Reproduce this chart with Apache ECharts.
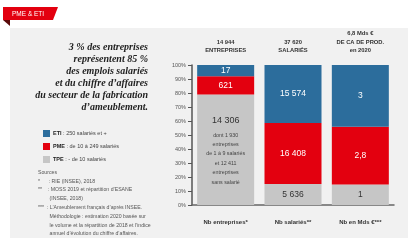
<!DOCTYPE html>
<html>
<head>
<meta charset="utf-8">
<script src="https://cdn.jsdelivr.net/npm/echarts@6/dist/echarts.min.js"></script>
<style>
  html, body { margin: 0; padding: 0; background: #fff; }
  #chart { width: 417px; height: 247px; }
</style>
</head>
<body>
<div id="chart"></div>
<script>
const categories = ['Nb entreprises*', 'Nb salariés**', 'Nb en Mds €***'];
const headers = ['14 944\nENTREPRISES', '37 620\nSALARIÉS', '6,8 Mds €\nDE CA DE PROD.\nen 2020'];
// hauteur de chaque segment (en % de la barre)
const tpeShare = [79, 15.0, 14.7];
const pmeShare = [13, 43.6, 41.2];
const etiShare = [8, 41.4, 44.1];
const tpeLabels = ['14 306', '5 636', '1'];
const pmeLabels = ['621', '16 408', '2,8'];
const etiLabels = ['17', '15 574', '3'];
const tpeNote = ['dont 1 930', 'entreprises', 'de 1 à 9 salariés', 'et 12 411', 'entreprises', 'sans salarié'];
const legendNames = ['ETI', 'PME', 'TPE'];
const legendDesc = ['250 salariés et +', 'de 10 à 249 salariés', '- de 10 salariés'];
const headline = ['3 % des entreprises', 'représentent 85 %', 'des emplois salariés',
  'et du chiffre d\u2019affaires', 'du secteur de la fabrication', 'd\u2019ameublement.'];
const sources = ['Sources', '*      : RIE (INSEE), 2018', '**    : MOSS 2019 et répartition d\u2019ESANE',
  '        (INSEE, 2018)', '***  : L\u2019Ameublement français d\u2019après INSEE.',
  '        Méthodologie : estimation 2020 basée sur',
  '        le volume et la répartition de 2018 et l\u2019indice',
  '        annuel d\u2019évolution du chiffre d\u2019affaires.'];

const BLUE = '#2c6d9c';
const RED = '#e3000f';
const GREY = '#c6c6c6';
const FONT = 'Liberation Sans';

const chart = echarts.init(document.getElementById('chart'));

const tpeData = tpeShare.map((v, i) => {
  if (i !== 0) return v;
  return {
    value: v,
    label: {
      position: 'insideTop',
      distance: 16,
      formatter: '{a|' + tpeLabels[0] + '}\n' + tpeNote.map(t => '{b|' + t + '}').join('\n'),
      rich: {
        a: { fontSize: 9, lineHeight: 20, color: '#333', fontFamily: FONT },
        b: { fontSize: 5.3, lineHeight: 9.4, color: '#444', fontFamily: FONT }
      }
    }
  };
});

chart.setOption({
  animation: false,
  textStyle: { fontFamily: FONT },
  grid: { left: 192, right: 23, top: 65, bottom: 42 },
  legend: {
    data: legendNames,
    orient: 'vertical',
    left: 38,
    top: 125,
    icon: 'rect',
    itemWidth: 7,
    itemHeight: 7,
    itemGap: 6,
    selectedMode: false,
    textStyle: {
      fontSize: 5.5,
      color: '#444',
      padding: [0, 0, 0, -2],
      rich: { b: { fontSize: 5.5, fontWeight: 'bold', color: '#222' } }
    },
    formatter: name => '{b|' + name + '} : ' + legendDesc[legendNames.indexOf(name)]
  },
  xAxis: [{
    type: 'category',
    data: categories,
    axisLine: { lineStyle: { color: '#666', width: 1.5 } },
    axisTick: { show: false },
    axisLabel: { fontSize: 6, fontWeight: 'bold', color: '#333', margin: 14 }
  }, {
    type: 'category',
    position: 'top',
    data: headers,
    axisLine: { show: false },
    axisTick: { show: false },
    axisLabel: { fontSize: 5.8, fontWeight: 'bold', color: '#333', lineHeight: 8.5, margin: 10 }
  }],
  yAxis: {
    type: 'value',
    min: 0,
    max: 100,
    interval: 10,
    axisLine: { show: true, lineStyle: { color: '#555', width: 1.5 } },
    axisTick: { show: true, length: 4, lineStyle: { color: '#555' } },
    splitLine: { show: false },
    axisLabel: { fontSize: 5.5, color: '#555', margin: 6, formatter: '{value}%' }
  },
  series: [{
    name: 'TPE',
    type: 'bar',
    stack: 'total',
    barWidth: 57,
    data: tpeData,
    itemStyle: { color: GREY },
    label: {
      show: true,
      position: 'inside',
      fontSize: 8.5,
      color: '#333',
      formatter: p => tpeLabels[p.dataIndex]
    }
  }, {
    name: 'PME',
    type: 'bar',
    stack: 'total',
    barWidth: 57,
    data: pmeShare,
    itemStyle: { color: RED },
    label: {
      show: true,
      position: 'inside',
      fontSize: 8.5,
      color: '#fff',
      formatter: p => pmeLabels[p.dataIndex]
    }
  }, {
    name: 'ETI',
    type: 'bar',
    stack: 'total',
    barWidth: 57,
    data: etiShare,
    itemStyle: { color: BLUE },
    label: {
      show: true,
      position: 'inside',
      fontSize: 8.5,
      color: '#fff',
      formatter: p => etiLabels[p.dataIndex]
    }
  }],
  graphic: [{
    type: 'rect',
    z: -10,
    shape: { x: 10, y: 28, width: 398, height: 210 },
    style: { fill: '#f1f1f1' }
  }, {
    type: 'polygon',
    z: 10,
    shape: { points: [[3, 20], [10, 20], [10, 26]] },
    style: { fill: '#5a0a0a' }
  }, {
    type: 'polygon',
    z: 10,
    shape: { points: [[3, 7], [58, 7], [53, 20], [3, 20]] },
    style: { fill: '#e3000f' }
  }, {
    type: 'text',
    z: 11,
    x: 12,
    y: 10.5,
    style: { text: 'PME & ETI', fill: '#fff', fontSize: 6.5, fontFamily: FONT }
  }, {
    type: 'text',
    x: 148,
    y: 41,
    style: {
      text: headline.join('\n'),
      align: 'right',
      fill: '#222',
      fontSize: 10,
      lineHeight: 12,
      fontStyle: 'italic',
      fontWeight: 'bold',
      fontFamily: 'Liberation Serif'
    }
  }, {
    type: 'text',
    x: 38,
    y: 168,
    style: {
      text: sources.join('\n'),
      fill: '#555',
      fontSize: 5.2,
      lineHeight: 8.8,
      fontFamily: FONT
    }
  }]
});
</script>
</body>
</html>
